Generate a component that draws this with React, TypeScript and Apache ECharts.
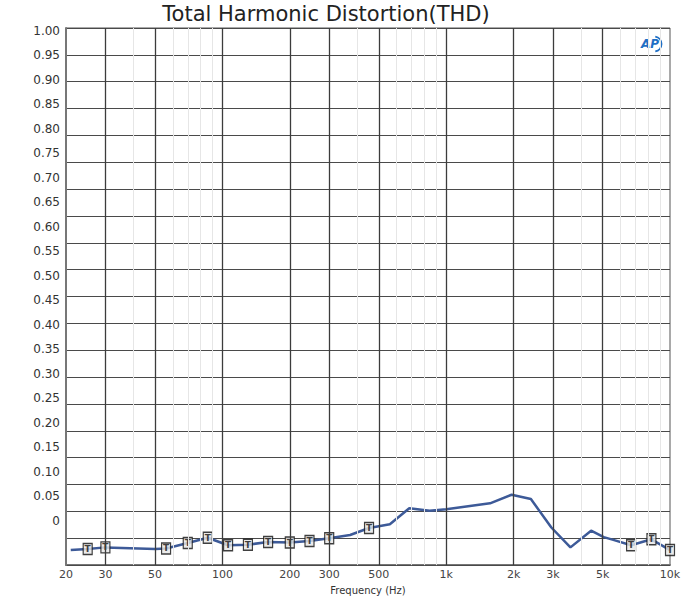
import React, { useEffect, useRef } from "react";
import * as echarts from "echarts";

const freqs = [21, 25, 30, 50, 56, 70, 86, 106, 130, 160, 200, 245, 300, 372, 452, 560, 684, 843, 1000, 1570, 1960, 2390, 2950, 3590, 4440, 5060, 5580, 6700, 8260, 10000];
const thd = [0.028, 0.030, 0.033, 0.030, 0.031, 0.041, 0.051, 0.037, 0.038, 0.043, 0.042, 0.045, 0.050, 0.056, 0.069, 0.076, 0.106, 0.101, 0.104, 0.115, 0.131, 0.123, 0.070, 0.033, 0.064, 0.052, 0.047, 0.037, 0.048, 0.028];
const markerFreqs = [25, 30, 56, 70, 86, 106, 130, 160, 200, 245, 300, 452, 6700, 8260, 10000];
const xTickValues = [20, 30, 50, 100, 200, 300, 500, 1000, 2000, 3000, 5000, 10000];
const majorGridFreqs = [30, 50, 100, 200, 300, 500, 1000, 2000, 3000, 5000];
const minorGridFreqs = [40, 60, 70, 80, 90, 400, 600, 700, 800, 900, 4000, 6000, 7000, 8000, 9000];

const FONT = "DejaVu Sans";

export default function App() {
  const ref = useRef<HTMLDivElement>(null);
  useEffect(() => {
    const chart = echarts.init(ref.current!, null, { renderer: "svg" });
    const lineData = freqs.map((f, i) => [f, thd[i]]);
    const markerData = markerFreqs.map((f) => [f, thd[freqs.indexOf(f)]]);
    const gridLines = [
      ...minorGridFreqs.map((f) => ({ xAxis: f, lineStyle: { color: "#e6e6e6", width: 1, type: "solid" } })),
      ...majorGridFreqs.map((f) => ({ xAxis: f, lineStyle: { color: "#3c3c3c", width: 1.3, type: "solid" } })),
    ];
    const option: any = {
      animation: false,
      backgroundColor: "#ffffff",
      grid: [
        { left: 66, right: 30, top: 28, bottom: 33, show: true, borderColor: "#555", borderWidth: 1, backgroundColor: "transparent" },
        { left: 66, right: 30, top: 30.7, bottom: 79.3 },
      ],
      graphic: [
        {
          type: "text",
          x: 326,
          y: 14,
          style: {
            text: "Total Harmonic Distortion(THD)",
            font: `21px "${FONT}"`,
            fill: "#222",
            textAlign: "center",
            textVerticalAlign: "middle",
          },
        },
        {
          type: "text",
          x: 641,
          y: 44,
          style: {
            text: "AP",
            font: `italic bold 12px "${FONT}"`,
            fill: "#1f6fc5",
            textAlign: "left",
            textVerticalAlign: "middle",
          },
        },
        {
          type: "arc",
          shape: { cx: 654, cy: 44, r: 7.5, startAngle: -1.4, endAngle: 1.4 },
          style: { stroke: "#1f6fc5", lineWidth: 1.8, fill: "none" },
        },
      ],
      xAxis: [
        {
          type: "log",
          logBase: 10,
          min: 20,
          max: 10000,
          gridIndex: 0,
          name: "Frequency (Hz)",
          nameLocation: "middle",
          nameGap: 17,
          nameTextStyle: { fontSize: 10, color: "#333", fontFamily: FONT },
          axisLine: { show: true, lineStyle: { color: "#777", width: 2 } },
          axisTick: { show: false },
          splitLine: { show: false },
          minorTick: { show: false },
          minorSplitLine: { show: false },
          axisLabel: {
            customValues: xTickValues,
            formatter: (v: number) => (v >= 1000 ? `${Math.round(v / 1000)}k` : `${Math.round(v)}`),
            margin: 4,
            fontSize: 11,
            color: "#444",
            fontFamily: FONT,
          },
        },
        { type: "value", gridIndex: 1, show: false, min: 0, max: 1 },
      ],
      yAxis: [
        {
          type: "value",
          min: 0,
          max: 1,
          interval: 0.05,
          gridIndex: 0,
          z: 2,
          axisLabel: { show: false },
          axisTick: { show: false },
          axisLine: { show: true, lineStyle: { color: "#777", width: 2 } },
          splitLine: { show: true, lineStyle: { color: "#4a4a4a", width: 1 } },
        },
        {
          type: "value",
          min: 0,
          max: 1,
          interval: 0.05,
          gridIndex: 1,
          axisLine: { show: false },
          axisTick: { show: false },
          splitLine: { show: false },
          axisLabel: {
            formatter: (v: number) => (Math.abs(v) < 1e-9 ? "0" : v.toFixed(2)),
            fontSize: 12,
            color: "#333",
            margin: 6,
            fontFamily: FONT,
          },
        },
      ],
      series: [
        {
          type: "line",
          xAxisIndex: 0,
          yAxisIndex: 0,
          z: 1,
          data: lineData,
          showSymbol: false,
          silent: true,
          lineStyle: { opacity: 0, width: 0 },
          markLine: {
            silent: true,
            symbol: "none",
            label: { show: false },
            data: gridLines,
          },
        },
        {
          type: "line",
          xAxisIndex: 0,
          yAxisIndex: 0,
          z: 3,
          data: lineData,
          showSymbol: false,
          lineStyle: { color: "#3d5a98", width: 2.5 },
        },
        {
          type: "scatter",
          xAxisIndex: 0,
          yAxisIndex: 0,
          z: 4,
          data: markerData,
          symbol: "rect",
          symbolSize: [9, 11],
          itemStyle: { color: "#e6e6e6", borderColor: "#111", borderWidth: 1.3 },
          label: {
            show: true,
            position: "inside",
            formatter: "T",
            fontSize: 9,
            fontWeight: "bold",
            color: "#111",
            fontFamily: FONT,
          },
        },
      ],
    };
    chart.setOption(option);
    return () => chart.dispose();
  }, []);
  return <div ref={ref} style={{ position: "fixed", left: 0, top: 0, width: 700, height: 600 }} />;
}
